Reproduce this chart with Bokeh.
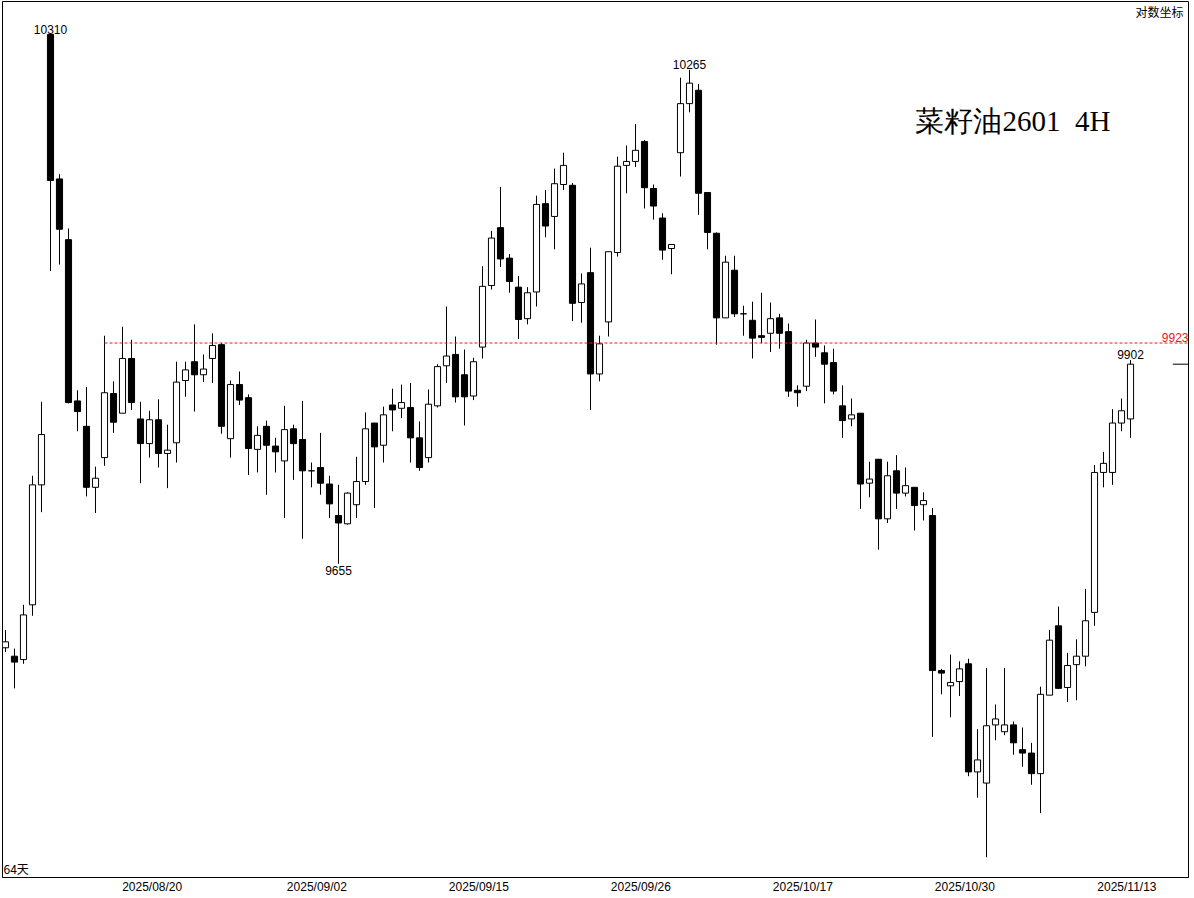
from bokeh.plotting import figure
from bokeh.models import ColumnDataSource, Range1d, FixedTicker
from bokeh.core.properties import value
from bokeh.embed import file_html
from bokeh.resources import INLINE

# ---- data (4H candles, 菜籽油2601) ----
opens = [9555, 9545, 9541, 9606, 9750, 10310, 10127, 10051, 9852, 9821,
         9747, 9783, 9861, 9837, 9904, 9830, 9800, 9829, 9788, 9801,
         9877, 9900, 9884, 9904, 9921, 9806, 9872, 9856, 9793, 9821,
         9797, 9779, 9818, 9805, 9767, 9771, 9751, 9713, 9703, 9726,
         9754, 9825, 9798, 9847, 9843, 9844, 9807, 9783, 9846, 9895,
         9909, 9884, 9858, 9918, 9994, 10066, 10028, 9992, 9953, 9986,
         10096, 10080, 10120, 10119, 9973, 10010, 9885, 9949, 10035, 10144,
         10149, 10174, 10115, 10078, 10040, 10160, 10222, 10239, 10110, 10059,
         9954, 10013, 9959, 9951, 9932, 9935, 9954, 9937, 9865, 9870,
         9923, 9911, 9899, 9846, 9830, 9837, 9752, 9781, 9709, 9767,
         9740, 9747, 9726, 9713, 9528, 9510, 9515, 9536, 9409, 9396,
         9464, 9456, 9464, 9435, 9431, 9407, 9499, 9581, 9508, 9535,
         9545, 9597, 9765, 9765, 9825, 9830]
highs = [9576, 9554, 9606, 9761, 9851, 10310, 10133, 10065, 9865, 9869,
         9772, 9932, 9876, 9943, 9927, 9851, 9840, 9854, 9823, 9900,
         9900, 9946, 9909, 9935, 9923, 9877, 9888, 9860, 9821, 9828,
         9807, 9846, 9823, 9852, 9777, 9813, 9761, 9750, 9741, 9784,
         9838, 9825, 9845, 9867, 9872, 9874, 9827, 9866, 9897, 9968,
         9931, 9915, 9905, 10018, 10062, 10117, 10033, 10006, 9992, 10106,
         10113, 10140, 10160, 10122, 10009, 10041, 9932, 10036, 10155, 10169,
         10196, 10176, 10120, 10084, 10045, 10255, 10265, 10247, 10110, 10060,
         10031, 10031, 9969, 9974, 9985, 9973, 9959, 9947, 9871, 9927,
         9952, 9920, 9916, 9871, 9855, 9837, 9778, 9781, 9778, 9786,
         9771, 9747, 9741, 9722, 9530, 9547, 9539, 9542, 9459, 9531,
         9488, 9531, 9468, 9461, 9443, 9509, 9576, 9604, 9549, 9565,
         9625, 9774, 9790, 9842, 9855, 9902]
lows = [9550, 9507, 9536, 9593, 9717, 10012, 10020, 9849, 9815, 9736,
        9716, 9773, 9813, 9837, 9841, 9752, 9783, 9771, 9746, 9777,
        9857, 9839, 9875, 9874, 9812, 9783, 9847, 9762, 9765, 9738,
        9765, 9710, 9756, 9685, 9747, 9738, 9710, 9655, 9702, 9710,
        9750, 9722, 9777, 9815, 9831, 9777, 9767, 9777, 9844, 9874,
        9850, 9822, 9853, 9904, 9989, 10017, 9985, 9928, 9946, 9968,
        10054, 10039, 10113, 9950, 9948, 9841, 9876, 9931, 10030, 10109,
        10142, 10090, 10076, 10026, 10008, 10130, 10211, 10082, 10039, 9921,
        9954, 9955, 9932, 9904, 9923, 9912, 9916, 9857, 9845, 9864,
        9906, 9849, 9860, 9807, 9821, 9721, 9735, 9672, 9704, 9721,
        9736, 9695, 9707, 9450, 9500, 9473, 9498, 9404, 9379, 9310,
        9446, 9452, 9429, 9415, 9394, 9361, 9499, 9507, 9491, 9493,
        9533, 9581, 9747, 9750, 9815, 9807]
closes = [9562, 9538, 9594, 9750, 9811, 10125, 10064, 9850, 9839, 9747,
          9758, 9862, 9826, 9904, 9850, 9800, 9829, 9788, 9792, 9875,
          9890, 9884, 9891, 9920, 9821, 9872, 9853, 9794, 9810, 9798,
          9790, 9817, 9800, 9767, 9767, 9752, 9727, 9704, 9740, 9754,
          9818, 9796, 9835, 9841, 9850, 9807, 9771, 9848, 9894, 9907,
          9857, 9857, 9900, 9993, 10053, 10027, 9999, 9952, 9985, 10095,
          10068, 10121, 10144, 9972, 9996, 9885, 9922, 10036, 10143, 10149,
          10163, 10116, 10093, 10038, 10045, 10222, 10248, 10109, 10060, 9954,
          10023, 9959, 9959, 9929, 9930, 9953, 9935, 9864, 9862, 9923,
          9918, 9897, 9864, 9828, 9835, 9751, 9757, 9709, 9761, 9740,
          9749, 9725, 9731, 9528, 9525, 9514, 9530, 9409, 9423, 9463,
          9471, 9464, 9443, 9431, 9407, 9500, 9564, 9507, 9534, 9545,
          9587, 9765, 9776, 9825, 9840, 9897]

date_labels = ["2025/08/20", "2025/09/02", "2025/09/15", "2025/09/26",
               "2025/10/17", "2025/10/30", "2025/11/13"]
date_ticks = [16.3, 34.6, 52.6, 70.6, 88.6, 106.6, 124.6]

ref_level = 9923          # red dashed horizontal line
ref_start = 11            # candle where the red line begins
high_marks = [5, 76, 125]  # candles whose highs are labelled
low_marks = [37]           # candles whose lows are labelled
title_text = "菜籽油2601\u00a0\u00a04H"

# ---- figure ----
x_start, x_end = -0.333, 131.444
y_low, y_high = 9286.6, 10352.3

p = figure(width=1192, height=896, y_axis_type="log", y_axis_location=None,
           x_range=Range1d(x_start, x_end), y_range=Range1d(y_low, y_high),
           output_backend="svg", toolbar_location=None,
           min_border_left=2, min_border_right=4, min_border_top=1,
           min_border_bottom=16)
p.background_fill_color = "white"
p.border_fill_color = "white"
p.outline_line_color = "black"
p.outline_line_width = 1
p.xgrid.visible = False
p.ygrid.visible = False

idx = list(range(len(opens)))
tops = [max(o, c) for o, c in zip(opens, closes)]
bots = [min(o, c) for o, c in zip(opens, closes)]
fills = ["white" if c >= o else "black" for o, c in zip(opens, closes)]
src = ColumnDataSource(dict(x=idx, o=opens, h=highs, l=lows, c=closes,
                            top=tops, bot=bots, fill=fills))

p.segment(x0="x", y0="h", x1="x", y1="l", source=src, line_color="black", line_width=1)
p.vbar(x="x", width=0.68, top="top", bottom="bot", source=src,
       fill_color="fill", line_color="black", line_width=1)

# red reference line and label
p.segment(x0=[ref_start], y0=[ref_level], x1=[x_end], y1=[ref_level],
          line_color="#e02020", line_width=1, line_dash="3 2")
p.text(x=[x_end], y=[ref_level], text=[str(ref_level)], text_align="right",
       text_baseline="bottom", x_offset=0, y_offset=-1, text_color="#e02020",
       text_font=value("Liberation Sans"), text_font_size="12px")

# last price marker
p.segment(x0=[129.7], y0=[closes[-1]], x1=[x_end], y1=[closes[-1]],
          line_color="black", line_width=1)

# high / low labels
p.text(x=high_marks, y=[highs[i] for i in high_marks],
       text=[str(highs[i]) for i in high_marks], text_align="center",
       text_baseline="bottom", y_offset=-1, text_color="black",
       text_font=value("Liberation Sans"), text_font_size="12px")
p.text(x=low_marks, y=[lows[i] for i in low_marks],
       text=[str(lows[i]) for i in low_marks], text_align="center",
       text_baseline="top", y_offset=2, text_color="black",
       text_font=value("Liberation Sans"), text_font_size="12px")

# title
p.text(x=[101.1], y=[10200], text=[title_text], text_align="left",
       text_baseline="middle", text_color="black",
       text_font=value("Liberation Serif"), text_font_size="29px")

# corner texts
p.text(x=[x_end], y=[y_high], text=["对数坐标"], text_align="right",
       text_baseline="top", x_offset=-5, y_offset=1, text_color="black",
       text_font=value("Noto Sans CJK SC"), text_font_size="12px")
p.text(x=[x_start], y=[y_low], text=["64天"], text_align="left",
       text_baseline="bottom", x_offset=1, y_offset=-1, text_color="black",
       text_font=value("Noto Sans CJK SC"), text_font_size="12px")

# x axis
ax = p.xaxis[0]
ax.ticker = FixedTicker(ticks=date_ticks)
ax.major_label_overrides = {t: l for t, l in zip(date_ticks, date_labels)}
ax.major_tick_line_color = None
ax.minor_tick_line_color = None
ax.major_tick_out = 0
ax.major_tick_in = 0
ax.axis_line_color = "black"
ax.major_label_standoff = 2
ax.major_label_text_font = "Liberation Sans"
ax.major_label_text_font_size = "12px"
ax.major_label_text_color = "black"

open("out.html", "w").write(file_html(p, INLINE))
